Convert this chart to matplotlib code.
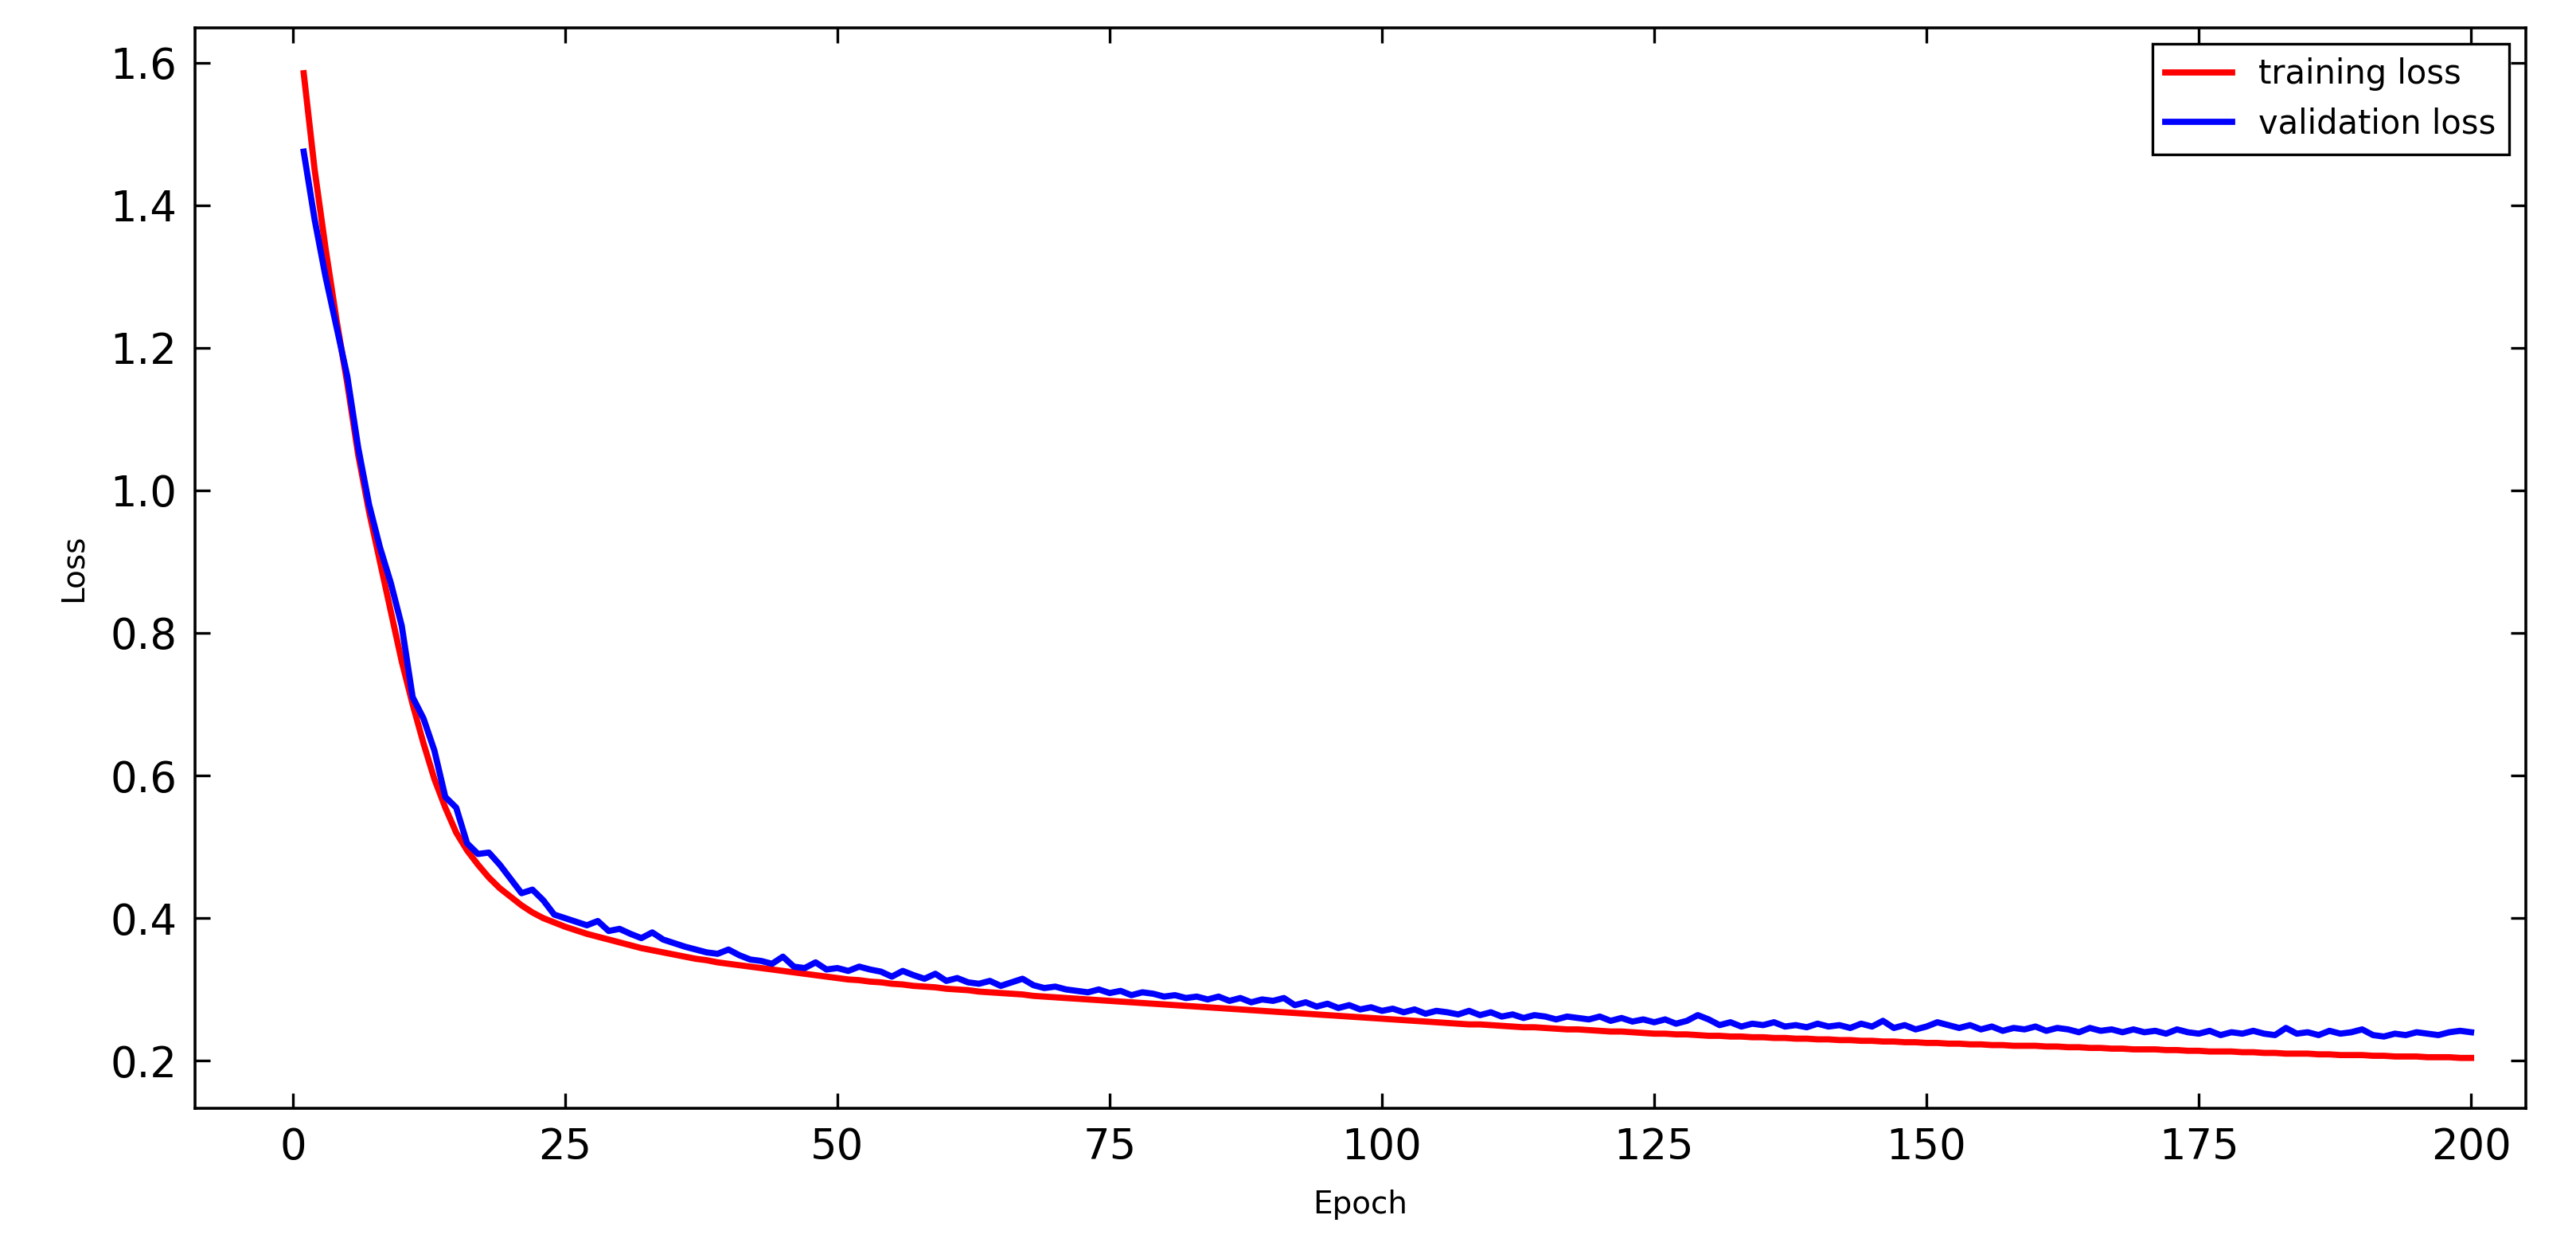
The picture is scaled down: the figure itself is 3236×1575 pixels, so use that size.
import matplotlib
matplotlib.use("Agg")
import matplotlib.pyplot as plt

epochs = list(range(1, 201))
train_loss = [
1.585,1.450,1.340,1.240,1.150,1.050,0.970,0.900,0.830,0.760,
0.700,0.645,0.595,0.555,0.520,0.495,0.475,0.457,0.442,0.430,
0.418,0.408,0.400,0.394,0.388,0.383,0.378,0.374,0.370,0.366,
0.362,0.358,0.355,0.352,0.349,0.346,0.343,0.341,0.338,0.336,
0.334,0.332,0.330,0.328,0.326,0.324,0.322,0.320,0.318,0.316,
0.314,0.313,0.311,0.310,0.308,0.307,0.305,0.304,0.303,0.301,
0.300,0.299,0.297,0.296,0.295,0.294,0.293,0.291,0.290,0.289,
0.288,0.287,0.286,0.285,0.284,0.283,0.282,0.281,0.280,0.279,
0.278,0.277,0.276,0.275,0.274,0.273,0.272,0.271,0.270,0.269,
0.268,0.267,0.266,0.265,0.264,0.263,0.262,0.261,0.260,0.259,
0.258,0.257,0.256,0.255,0.254,0.253,0.252,0.251,0.251,0.250,
0.249,0.248,0.247,0.247,0.246,0.245,0.244,0.244,0.243,0.242,
0.241,0.241,0.240,0.239,0.238,0.238,0.237,0.237,0.236,0.235,
0.235,0.234,0.234,0.233,0.233,0.232,0.232,0.231,0.231,0.230,
0.230,0.229,0.229,0.228,0.228,0.227,0.227,0.226,0.226,0.225,
0.225,0.224,0.224,0.223,0.223,0.222,0.222,0.221,0.221,0.221,
0.220,0.220,0.219,0.219,0.218,0.218,0.217,0.217,0.216,0.216,
0.216,0.215,0.215,0.214,0.214,0.213,0.213,0.213,0.212,0.212,
0.211,0.211,0.210,0.210,0.210,0.209,0.209,0.208,0.208,0.208,
0.207,0.207,0.206,0.206,0.206,0.205,0.205,0.205,0.204,0.204]
val_loss = [
1.475,1.380,1.300,1.230,1.160,1.060,0.980,0.920,0.870,0.810,
0.710,0.680,0.635,0.570,0.555,0.505,0.490,0.492,0.475,0.455,
0.435,0.440,0.425,0.405,0.400,0.395,0.390,0.396,0.382,0.385,
0.378,0.372,0.380,0.370,0.365,0.360,0.356,0.352,0.350,0.356,
0.348,0.342,0.340,0.336,0.346,0.332,0.330,0.338,0.328,0.330,
0.326,0.332,0.328,0.325,0.318,0.326,0.320,0.315,0.322,0.312,
0.316,0.310,0.308,0.312,0.305,0.310,0.315,0.306,0.302,0.304,
0.300,0.298,0.296,0.300,0.295,0.298,0.292,0.296,0.294,0.290,
0.292,0.288,0.290,0.286,0.290,0.284,0.288,0.282,0.286,0.284,
0.288,0.278,0.282,0.276,0.280,0.274,0.278,0.272,0.275,0.270,
0.273,0.268,0.272,0.266,0.270,0.268,0.265,0.270,0.264,0.268,
0.262,0.265,0.260,0.264,0.262,0.258,0.262,0.260,0.258,0.262,
0.256,0.260,0.255,0.258,0.254,0.258,0.252,0.256,0.264,0.258,
0.250,0.254,0.248,0.252,0.250,0.254,0.248,0.250,0.247,0.252,
0.248,0.250,0.246,0.252,0.248,0.256,0.246,0.250,0.244,0.248,
0.254,0.250,0.246,0.250,0.244,0.248,0.242,0.246,0.244,0.248,
0.242,0.246,0.244,0.240,0.246,0.242,0.244,0.240,0.244,0.240,
0.242,0.238,0.244,0.240,0.238,0.242,0.236,0.240,0.238,0.242,
0.238,0.236,0.246,0.238,0.240,0.236,0.242,0.238,0.240,0.244,
0.236,0.234,0.238,0.236,0.240,0.238,0.236,0.240,0.242,0.240]

fig = plt.figure(figsize=(16.185, 7.875), dpi=200)
ax = fig.add_axes([0.0756, 0.116, 0.9045, 0.862])
ax.plot(epochs, train_loss, color="red", lw=2.8, label="training loss")
ax.plot(epochs, val_loss, color="blue", lw=2.8, label="validation loss")
ax.set_xlim(-9, 205)
ax.set_ylim(0.133, 1.649)
ax.set_xticks([0, 25, 50, 75, 100, 125, 150, 175, 200])
ax.set_yticks([0.2, 0.4, 0.6, 0.8, 1.0, 1.2, 1.4, 1.6])
ax.tick_params(direction="in", top=True, right=True, labelsize=19, length=7, width=1.2, pad=8)
for s in ax.spines.values():
    s.set_linewidth(1.3)
ax.set_xlabel("Epoch", fontsize=14, labelpad=10)
ax.set_ylabel("Loss", fontsize=14, labelpad=10)
leg = ax.legend(loc="upper right", fontsize=15, fancybox=False, edgecolor="black", framealpha=1)
leg.get_frame().set_linewidth(1.2)
fig.savefig("out.png", dpi=200)
